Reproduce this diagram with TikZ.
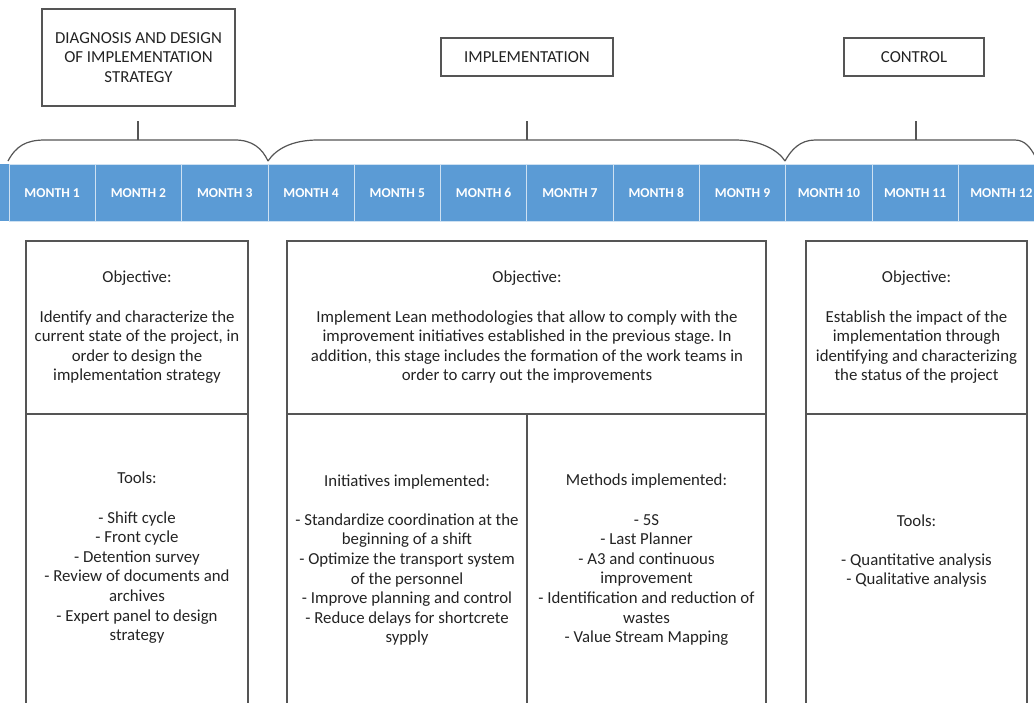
\documentclass[tikz,border=0pt]{standalone}
\usepackage{fontspec}
\setmainfont{Carlito}
\frenchspacing
\definecolor{monthblue}{RGB}{91,155,213}
\definecolor{linegray}{RGB}{85,85,85}
\definecolor{textgray}{RGB}{35,35,35}

\begin{document}
\begin{tikzpicture}[x = 1pt, y = -1pt,
                every node/.style = {text=textgray, font=\fontsize{16.8}{19.6}\selectfont},
                stagebox/.style = {draw=linegray, line width=1.2pt, align=center, inner sep=0pt},
                monthcell/.style = {fill=monthblue, draw=white!70!monthblue, line width=.8pt,
                        minimum width=86.3pt, minimum height=57pt, text=white,
                        text height=10pt, text depth=0pt,
                        font=\fontsize{13.6}{15}\selectfont\bfseries},
                textblock/.style = {align=center},
                frame/.style = {draw=linegray, line width=1.2pt}]
                \useasboundingbox (0,0) rectangle (1034,702);

                % stages
                \node[stagebox, minimum width=193pt, minimum height=97pt] (diag) at (138.5,57.5)
                        {DIAGNOSIS AND DESIGN\\OF IMPLEMENTATION\\STRATEGY};
                \node[stagebox, minimum width=172pt, minimum height=38pt] (impl) at (527,57) {IMPLEMENTATION};
                \node[stagebox, minimum width=140pt, minimum height=38pt] (ctrl) at (914,57) {CONTROL};

                % braces
                \draw[frame] (8,161) .. controls (16,146) and (26,140) .. (45,140) -- (235,140)
                        .. controls (252,140) and (262,148) .. (268,161);
                \draw[frame] (268,161) .. controls (276,149) and (292,140) .. (318,140) -- (735,140)
                        .. controls (760,140) and (778,150) .. (785,161);
                \draw[frame] (785,161) .. controls (791,150) and (800,140) .. (815,140) -- (1015,140)
                        .. controls (1025,140) and (1031,148) .. (1036,158);
                \coordinate (diagtop) at (138,121);
                \coordinate (diagbrace) at (138,140);
                \coordinate (impltop) at (527,121);
                \coordinate (implbrace) at (527,140);
                \coordinate (ctrltop) at (916,121);
                \coordinate (ctrlbrace) at (916,140);
                \draw[frame] (diagtop) -- (diagbrace);
                \draw[frame] (impltop) -- (implbrace);
                \draw[frame] (ctrltop) -- (ctrlbrace);

                % months
                \fill[monthblue] (0,164) rectangle (1034,221);
                \node[monthcell] (m1) at (52.15,192.5) {MONTH 1};
                \node[monthcell] (m2) at (138.45,192.5) {MONTH 2};
                \node[monthcell] (m3) at (224.75,192.5) {MONTH 3};
                \node[monthcell] (m4) at (311.05,192.5) {MONTH 4};
                \node[monthcell] (m5) at (397.35,192.5) {MONTH 5};
                \node[monthcell] (m6) at (483.65,192.5) {MONTH 6};
                \node[monthcell] (m7) at (569.95,192.5) {MONTH 7};
                \node[monthcell] (m8) at (656.25,192.5) {MONTH 8};
                \node[monthcell] (m9) at (742.55,192.5) {MONTH 9};
                \node[monthcell] (m10) at (828.85,192.5) {MONTH 10};
                \node[monthcell] (m11) at (915.15,192.5) {MONTH 11};
                \node[monthcell] (m12) at (1001.45,192.5) {MONTH 12};

                % panels below
                \draw[frame] (26,710) -- (26,241) -- (248,241) -- (248,710);
                \draw[frame] (26,414) -- (248,414);
                \draw[frame] (287,710) -- (287,241) -- (766,241) -- (766,710);
                \draw[frame] (287,414) -- (766,414);
                \draw[frame] (527,414) -- (527,710);
                \draw[frame] (806,710) -- (806,241) -- (1027,241) -- (1027,710);
                \draw[frame] (806,414) -- (1027,414);

                \node[textblock] (diagobj) at (137,327.5) {Objective:\\[19.6pt]
                        Identify and characterize the\\current state of the project, in\\
                        order to design the\\implementation strategy};
                \node[textblock] (implobj) at (527,327.5) {Objective:\\[19.6pt]
                        Implement Lean methodologies that allow to comply with the\\
                        improvement initiatives established in the previous stage. In\\
                        addition, this stage includes the formation of the work teams in\\
                        order to carry out the improvements};
                \node[textblock] (ctrlobj) at (916.5,327.5) {Objective:\\[19.6pt]
                        Establish the impact of the\\implementation through\\
                        identifying and characterizing\\the status of the project};
                \node[textblock] (diagtools) at (137,558) {Tools:\\[19.6pt]
                        - Shift cycle\\- Front cycle\\- Detention survey\\
                        - Review of documents and\\archives\\- Expert panel to design\\strategy};
                \node[textblock] (implinit) at (407,560) {Initiatives implemented:\\[19.6pt]
                        - Standardize coordination at the\\beginning of a shift\\
                        - Optimize the transport system\\of the personnel\\
                        - Improve planning and control\\- Reduce delays for shortcrete\\sypply};
                \node[textblock] (implmeth) at (646.5,560) {Methods implemented:\\[19.6pt]
                        - 5S\\- Last Planner\\- A3 and continuous\\improvement\\
                        - Identification and reduction of\\wastes\\- Value Stream Mapping};
                \node[textblock] (ctrltools) at (916.5,551) {Tools:\\[19.6pt]
                        - Quantitative analysis\\- Qualitative analysis};
\end{tikzpicture}
\end{document}
